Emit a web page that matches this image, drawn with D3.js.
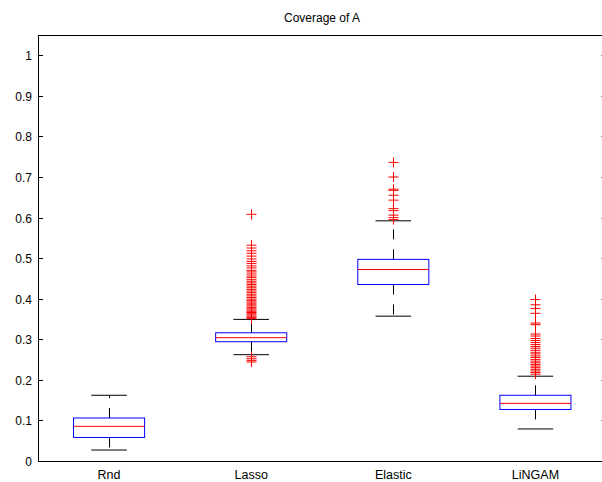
<!DOCTYPE html>
<html><head><meta charset="utf-8">
<script src="https://cdn.jsdelivr.net/npm/d3@7"></script>
<style>body{margin:0;background:#fff}svg{display:block}text{font-family:"Liberation Sans",Arial,sans-serif;fill:#000}</style>
</head><body><div id="c"></div>
<script>
const title = "Coverage of A";
const categories = ["Rnd", "Lasso", "Elastic", "LiNGAM"];
const lowerCap = [0.027, 0.262, 0.357, 0.079];
const q1 = [0.058, 0.294, 0.435, 0.127];
const median = [0.0855, 0.304, 0.472, 0.142];
const q3 = [0.106, 0.316, 0.497, 0.162];
const upperCap = [0.162, 0.349, 0.592, 0.209];
const outliersRnd = [];
const outliersLasso = [0.608, 0.532, 0.525, 0.518, 0.512, 0.505, 0.498, 0.492, 0.487, 0.481, 0.476, 0.470, 0.466, 0.461, 0.456, 0.452, 0.447, 0.443, 0.439, 0.435, 0.431, 0.427, 0.423, 0.419, 0.415, 0.411, 0.407, 0.403, 0.399, 0.396, 0.392, 0.389, 0.385, 0.382, 0.378, 0.375, 0.372, 0.369, 0.366, 0.363, 0.360, 0.357, 0.354, 0.351, 0.257, 0.252, 0.248, 0.244];
const outliersElastic = [0.736, 0.700, 0.670, 0.667, 0.655, 0.643, 0.622, 0.617, 0.606, 0.600, 0.595];
const outliersLiNGAM = [0.398, 0.385, 0.376, 0.364, 0.340, 0.336, 0.313, 0.308, 0.302, 0.297, 0.292, 0.287, 0.282, 0.278, 0.273, 0.268, 0.264, 0.259, 0.255, 0.250, 0.246, 0.242, 0.238, 0.234, 0.230, 0.226, 0.222, 0.218, 0.214];
const yTicks = [0, 0.1, 0.2, 0.3, 0.4, 0.5, 0.6, 0.7, 0.8, 0.9, 1];

const outliers = [outliersRnd, outliersLasso, outliersElastic, outliersLiNGAM];
const W = 602, H = 482;
const L = 38, R = 606.5, T = 35, B = 461;
const svg = d3.select("#c").append("svg").attr("width", W).attr("height", H);
const x = d3.scaleLinear().domain([0.5, 4.5]).range([L, R]);
const y = d3.scaleLinear().domain([0, 1.05]).range([B, T]);

// frame
svg.append("rect").attr("x", L + 0.5).attr("y", T + 0.5).attr("width", R - L).attr("height", B - T)
  .attr("fill", "none").attr("stroke", "#000").attr("stroke-width", 1);

// y ticks
const g = svg.append("g");
yTicks.forEach(t => {
  const yy = Math.round(y(t)) + 0.5;
  g.append("line").attr("x1", L).attr("x2", L + 5).attr("y1", yy).attr("y2", yy).attr("stroke", "#000");
  g.append("line").attr("x1", R - 5).attr("x2", R).attr("y1", yy).attr("y2", yy).attr("stroke", "#000");
  g.append("text").attr("x", 32).attr("y", yy).attr("dy", "0.35em").attr("text-anchor", "end")
    .attr("font-size", 12).text(d3.format("")(t));
});

// x labels
categories.forEach((c, i) => {
  svg.append("text").attr("x", x(i + 1)).attr("y", 479).attr("text-anchor", "middle")
    .attr("font-size", 12.5).text(c);
});

// title
svg.append("text").attr("x", 322).attr("y", 22).attr("text-anchor", "middle")
  .attr("font-size", 12).text(title);

const boxW = 0.5, capW = 0.25;
categories.forEach((c, i) => {
  const cx = Math.round(x(i + 1)) + 0.5;
  const bx0 = x(i + 1 - boxW / 2), bx1 = x(i + 1 + boxW / 2);
  const cx0 = x(i + 1 - capW / 2), cx1 = x(i + 1 + capW / 2);
  // whiskers dashed
  svg.append("line").attr("x1", cx).attr("x2", cx).attr("y1", y(q3[i])).attr("y2", y(upperCap[i]))
    .attr("stroke", "#000").attr("stroke-dasharray", "10,10");
  svg.append("line").attr("x1", cx).attr("x2", cx).attr("y1", y(q1[i])).attr("y2", y(lowerCap[i]))
    .attr("stroke", "#000").attr("stroke-dasharray", "10,10");
  // caps
  [upperCap[i], lowerCap[i]].forEach(v => {
    svg.append("line").attr("x1", cx0).attr("x2", cx1).attr("y1", y(v)).attr("y2", y(v)).attr("stroke", "#000");
  });
  // box
  svg.append("rect").attr("x", bx0).attr("y", y(q3[i])).attr("width", bx1 - bx0).attr("height", y(q1[i]) - y(q3[i]))
    .attr("fill", "none").attr("stroke", "#0000ff");
  // median
  svg.append("line").attr("x1", bx0).attr("x2", bx1).attr("y1", y(median[i])).attr("y2", y(median[i])).attr("stroke", "#ff0000");
  // outliers
  outliers[i].forEach(v => {
    const yy = y(v);
    svg.append("path").attr("d", `M${cx - 5},${yy}H${cx + 5}M${cx},${yy - 5}V${yy + 5}`)
      .attr("stroke", "#ff0000").attr("fill", "none");
  });
});
</script></body></html>
